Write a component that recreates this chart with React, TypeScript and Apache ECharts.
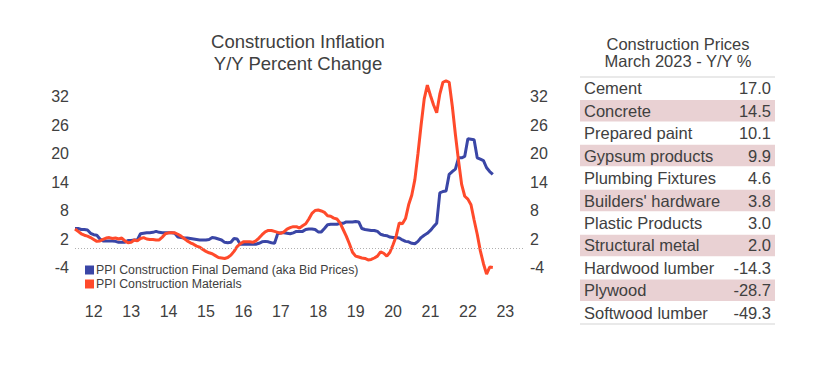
import React, { useEffect, useRef } from "react";
import * as echarts from "echarts";

const yearLabels = ["12", "13", "14", "15", "16", "17", "18", "19", "20", "21", "22", "23"];
const startYear = 2012;
const yTicks = [-4, 2, 8, 14, 20, 26, 32];

// Monthly, Jan 2012 .. Mar 2023
const bidPrices = [
  4.2, 4.2, 4.0, 4.0, 3.9, 3.2, 2.9, 2.8, 2.0, 1.6, 1.6, 1.6,
  1.6, 1.5, 1.3, 1.3, 1.3, 1.7, 1.7, 1.8, 1.8, 3.1, 3.2, 3.3,
  3.3, 3.4, 3.6, 3.4, 3.3, 3.3, 3.3, 3.3, 3.2, 2.4, 2.3, 2.2,
  2.2, 2.1, 2.0, 1.9, 1.8, 1.8, 1.8, 1.9, 2.3, 2.2, 2.0, 1.8,
  1.3, 1.2, 1.3, 2.1, 2.0, 0.9, 0.9, 0.9, 0.9, 0.9, 0.9, 1.1,
  1.4, 1.5, 1.4, 1.2, 1.1, 3.1, 3.3, 3.3, 3.2, 3.1, 3.3, 3.6,
  3.6, 3.6, 4.0, 4.1, 4.1, 4.0, 3.5, 3.5, 4.2, 5.0, 5.1, 5.1,
  5.1, 5.3, 5.3, 5.6, 5.6, 5.6, 5.7, 5.6, 4.2, 4.0, 3.9, 3.8,
  3.8, 3.6, 3.0, 2.8, 2.7, 2.4, 2.3, 2.3, 2.2, 1.8, 1.5, 1.4,
  1.1, 1.0, 1.5, 2.3, 2.8, 3.2, 3.8, 4.6, 5.3, 11.7, 12.0, 12.1,
  15.6, 16.2, 16.7, 19.1, 19.1, 19.4, 23.1, 23.0, 22.9, 19.1, 18.8, 18.5,
  17.0, 16.2, 15.6,
];

const materials = [
  4.1, 3.6, 3.1, 2.8, 2.6, 2.3, 1.9, 1.5, 1.6, 1.9, 2.2, 2.3,
  2.1, 2.2, 2.0, 2.2, 1.6, 1.2, 1.3, 1.8, 1.6, 2.1, 2.3, 2.0,
  1.9, 1.9, 1.8, 1.8, 2.4, 3.1, 3.3, 3.3, 3.3, 3.0, 2.6, 2.1,
  1.6, 1.2, 0.9, 0.5, 0.3, -0.2, -0.6, -0.9, -1.1, -1.5, -1.9, -2.0,
  -2.1, -1.9, -1.4, -0.6, 0.4, 1.0, 1.4, 1.4, 1.4, 1.3, 1.6, 2.2,
  2.9, 3.5, 3.8, 3.8, 3.6, 3.4, 3.2, 3.5, 4.1, 4.4, 4.6, 4.6,
  4.3, 4.8, 5.2, 6.2, 7.4, 8.0, 8.1, 7.9, 7.6, 6.9, 6.8, 6.4,
  6.2, 5.4, 4.0, 2.6, 1.0, -0.8, -1.6, -1.8, -2.0, -2.1, -2.4, -2.3,
  -2.0, -1.6, -0.7, -1.0, -1.6, -0.8, 0.8, 2.6, 5.4, 5.2, 6.3, 9.2,
  11.2, 14.5, 20.0, 26.0, 31.5, 34.4, 32.2, 30.2, 28.6, 32.5, 35.0, 35.3,
  35.0, 30.0, 24.0, 18.5, 13.5, 11.0, 10.4, 9.2, 6.0, 3.0, -0.5, -3.2,
  -5.4, -3.9, -4.0,
];

const tableItems = [
  "Cement", "Concrete", "Prepared paint", "Gypsum products", "Plumbing Fixtures",
  "Builders' hardware", "Plastic Products", "Structural metal", "Hardwood lumber",
  "Plywood", "Softwood lumber",
];
const tableValues = [17.0, 14.5, 10.1, 9.9, 4.6, 3.8, 3.0, 2.0, -14.3, -28.7, -49.3];

const FONT = "Liberation Sans, Arial, sans-serif";
const TXT = "#404040";
const BLUE = "#3a46a6";
const RED = "#ff4a2b";
const PINK = "#e9d1d3";

export default function App() {
  const ref = useRef<HTMLDivElement>(null);
  useEffect(() => {
    if (!ref.current) return;
    const chart = echarts.init(ref.current, null, { renderer: "svg" });
    const toPts = (arr: number[]) => arr.map((v, i) => [startYear + i / 12, v]);
    const rowCount = tableItems.length;

    const option: any = {
      animation: false,
      backgroundColor: "#ffffff",
      textStyle: { fontFamily: FONT },
      graphic: [
        {
          type: "text",
          x: 298,
          y: 30,
          style: {
            text: "Construction Inflation\nY/Y Percent Change",
            fill: TXT,
            font: `18.5px ${FONT}`,
            textAlign: "center",
            lineHeight: 22,
          },
        },
        {
          type: "text",
          x: 678,
          y: 35,
          style: {
            text: "Construction Prices\nMarch 2023 - Y/Y %",
            fill: TXT,
            font: `16.5px ${FONT}`,
            textAlign: "center",
            lineHeight: 17,
          },
        },
      ],
      legend: {
        orient: "vertical",
        left: 80,
        top: 259,
        icon: "rect",
        itemWidth: 9,
        itemHeight: 9,
        itemGap: 2,
        data: ["PPI Construction Final Demand (aka Bid Prices)", "PPI Construction Materials"],
        textStyle: { color: TXT, fontSize: 12.3, fontFamily: FONT, padding: [0, 0, 0, -3] },
      },
      grid: [
        { left: 75, width: 449, top: 68, height: 228 },
        { left: 580, width: 195, top: 77, height: 247 },
      ],
      xAxis: [
        { type: "value", gridIndex: 0, min: 2012, max: 2024, show: false },
        {
          type: "category",
          gridIndex: 0,
          position: "bottom",
          data: yearLabels,
          boundaryGap: true,
          axisLine: { show: false },
          axisTick: { show: false },
          axisLabel: { color: TXT, fontSize: 16, fontFamily: FONT, margin: 7 },
        },
        { type: "value", gridIndex: 1, min: 0, max: 1, show: false },
      ],
      yAxis: [
        {
          type: "value",
          gridIndex: 0,
          min: -10,
          max: 38,
          position: "left",
          splitLine: { show: false },
          axisLine: { show: false },
          axisTick: { show: false },
          axisLabel: { customValues: yTicks, color: TXT, fontSize: 16, fontFamily: FONT, margin: 6 },
        },
        {
          type: "value",
          gridIndex: 0,
          min: -10,
          max: 38,
          position: "right",
          splitLine: { show: false },
          axisLine: { show: false },
          axisTick: { show: false },
          axisLabel: { customValues: yTicks, color: TXT, fontSize: 16, fontFamily: FONT, margin: 6 },
        },
        {
          type: "category",
          gridIndex: 1,
          data: tableItems,
          inverse: true,
          show: false,
        },
      ],
      series: [
        {
          name: "PPI Construction Final Demand (aka Bid Prices)",
          type: "line",
          xAxisIndex: 0,
          yAxisIndex: 0,
          data: toPts(bidPrices),
          showSymbol: false,
          symbol: "none",
          lineStyle: { color: BLUE, width: 3 },
          itemStyle: { color: BLUE },
          z: 3,
          markLine: {
            silent: true,
            symbol: "none",
            label: { show: false },
            lineStyle: { color: "#b0b0b0", type: [1, 2], width: 1 },
            data: [{ yAxis: 0 }],
          },
        },
        {
          name: "PPI Construction Materials",
          type: "line",
          xAxisIndex: 0,
          yAxisIndex: 0,
          data: toPts(materials),
          showSymbol: false,
          symbol: "none",
          lineStyle: { color: RED, width: 3 },
          itemStyle: { color: RED },
          z: 4,
        },
        {
          type: "custom",
          xAxisIndex: 2,
          yAxisIndex: 2,
          silent: true,
          data: tableValues.map((v, i) => [0, i, v]),
          renderItem: (params: any, api: any) => {
            const i = api.value(1);
            const v = api.value(2);
            const p0 = api.coord([0, i]);
            const p1 = api.coord([1, i]);
            const h = api.size([0, 1])[1];
            const top = p0[1] - h / 2;
            const children: any[] = [];
            if (i % 2 === 1) {
              children.push({
                type: "rect",
                shape: { x: p0[0], y: top + 0.5, width: p1[0] - p0[0], height: h - 1 },
                style: { fill: PINK },
              });
            }
            if (i === 0) {
              children.push({
                type: "line",
                shape: { x1: p0[0], y1: top, x2: p1[0], y2: top },
                style: { stroke: "#e2e2e2", lineWidth: 1.5 },
              });
            }
            if (i === rowCount - 1) {
              children.push({
                type: "line",
                shape: { x1: p0[0], y1: top + h, x2: p1[0], y2: top + h },
                style: { stroke: "#e2e2e2", lineWidth: 1.5 },
              });
            }
            children.push({
              type: "text",
              x: p0[0] + 4,
              y: p0[1],
              style: {
                text: tableItems[i],
                fill: TXT,
                font: `16.5px ${FONT}`,
                textAlign: "left",
                textVerticalAlign: "middle",
              },
            });
            children.push({
              type: "text",
              x: p1[0] - 4,
              y: p0[1],
              style: {
                text: Number(v).toFixed(1),
                fill: TXT,
                font: `16.5px ${FONT}`,
                textAlign: "right",
                textVerticalAlign: "middle",
              },
            });
            return { type: "group", children };
          },
        },
      ],
    };
    chart.setOption(option);
    return () => chart.dispose();
  }, []);
  return (
    <div
      ref={ref}
      style={{ position: "absolute", left: 0, top: 0, width: 830, height: 370, background: "#fff" }}
    />
  );
}
